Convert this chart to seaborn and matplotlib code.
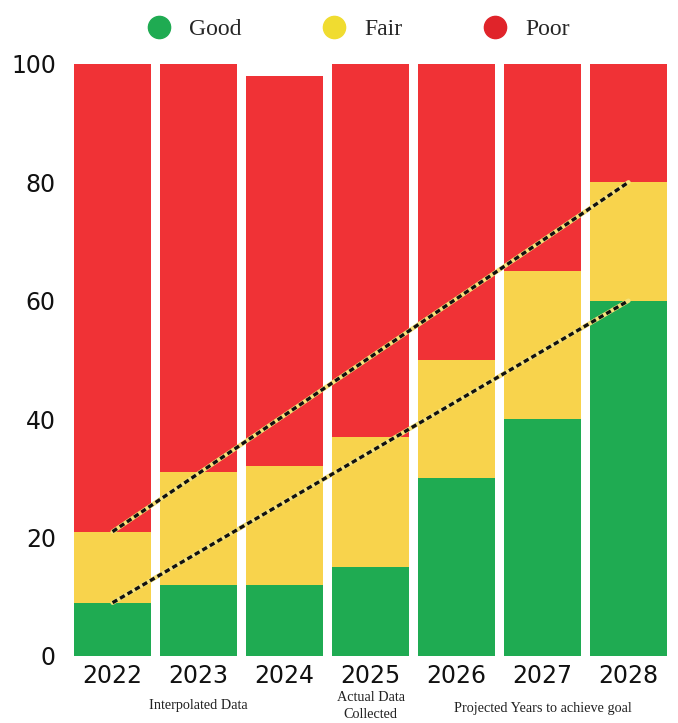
import numpy as np
import pandas as pd
import matplotlib.pyplot as plt
import seaborn as sns
from matplotlib.lines import Line2D

# dati (percentuali per anno)
years = ["2022", "2023", "2024", "2025", "2026", "2027", "2028"]
good = [9, 12, 12, 15, 30, 40, 60]
fair = [12, 19, 20, 22, 20, 25, 20]
poor = [79, 69, 66, 63, 50, 35, 20]

# linee tratteggiate dell'obiettivo
goal_years = ["2022", "2028"]
upper_goal = [21, 80]
lower_goal = [9, 60]

notes = ["Interpolated Data", "Actual Data\nCollected", "Projected Years to achieve goal"]
note_x = [1.0, 3.0, 5.0]
note_y = [-7.3, -5.9, -7.8]

col_good = "#1fab52"
col_fair = "#f8d34c"
col_poor = "#f03236"

sns.set_style("white")
plt.rcParams['font.family'] = ['DejaVu Sans']

df = pd.DataFrame({"year": years, "good": good, "fair": fair, "poor": poor})
df["good_fair"] = df["good"] + df["fair"]
df["total"] = df["good_fair"] + df["poor"]

fig = plt.figure(figsize=(6.78, 7.23), dpi=100)
ax = fig.add_axes([0.109, 0.0927, 0.875, 0.819])

# barre impilate: prima il totale, poi le parti cumulative sopra
for col, c in (("total", col_poor), ("good_fair", col_fair), ("good", col_good)):
    sns.barplot(data=df, x="year", y=col, color=c, saturation=1, width=0.9,
                linewidth=0, ax=ax)

gx = [years.index(y) for y in goal_years]
for vals in (upper_goal, lower_goal):
    ax.plot(gx, vals, color="#f6e27a", lw=3.2, solid_capstyle="round", zorder=4)
    ax.plot(gx, vals, color="#111111", lw=2.4, linestyle=(0, (1.6, 1.0)), zorder=5)

ax.set_xlim(-0.45, 6.45)
ax.set_ylim(0, 100)
ax.set_yticks([0, 20, 40, 60, 80, 100])
ax.set_xlabel("")
ax.set_ylabel("")
ax.tick_params(axis="y", labelsize=17, pad=13, length=0, labelcolor="#111111")
ax.tick_params(axis="x", labelsize=17, pad=6, length=0, labelcolor="#111111")
sns.despine(ax=ax, left=True, bottom=True)

for x, y, t in zip(note_x, note_y, notes):
    ax.text(x, y, t, ha="center", va="top", fontsize=10.3, family="Liberation Serif",
            color="#222222", linespacing=1.45, clip_on=False)

handles = [Line2D([], [], marker="o", ls="", markersize=16, color=c)
           for c in (col_good, "#f0dc30", "#e0242a")]
fig.legend(handles, ["Good", "Fair", "Poor"], loc="upper center", ncol=3,
           bbox_to_anchor=(0.52, 1.004), frameon=False, handletextpad=0.3,
           columnspacing=2.9, prop={"family": "Liberation Serif", "size": 17})

fig.savefig("out.png", dpi=100)
